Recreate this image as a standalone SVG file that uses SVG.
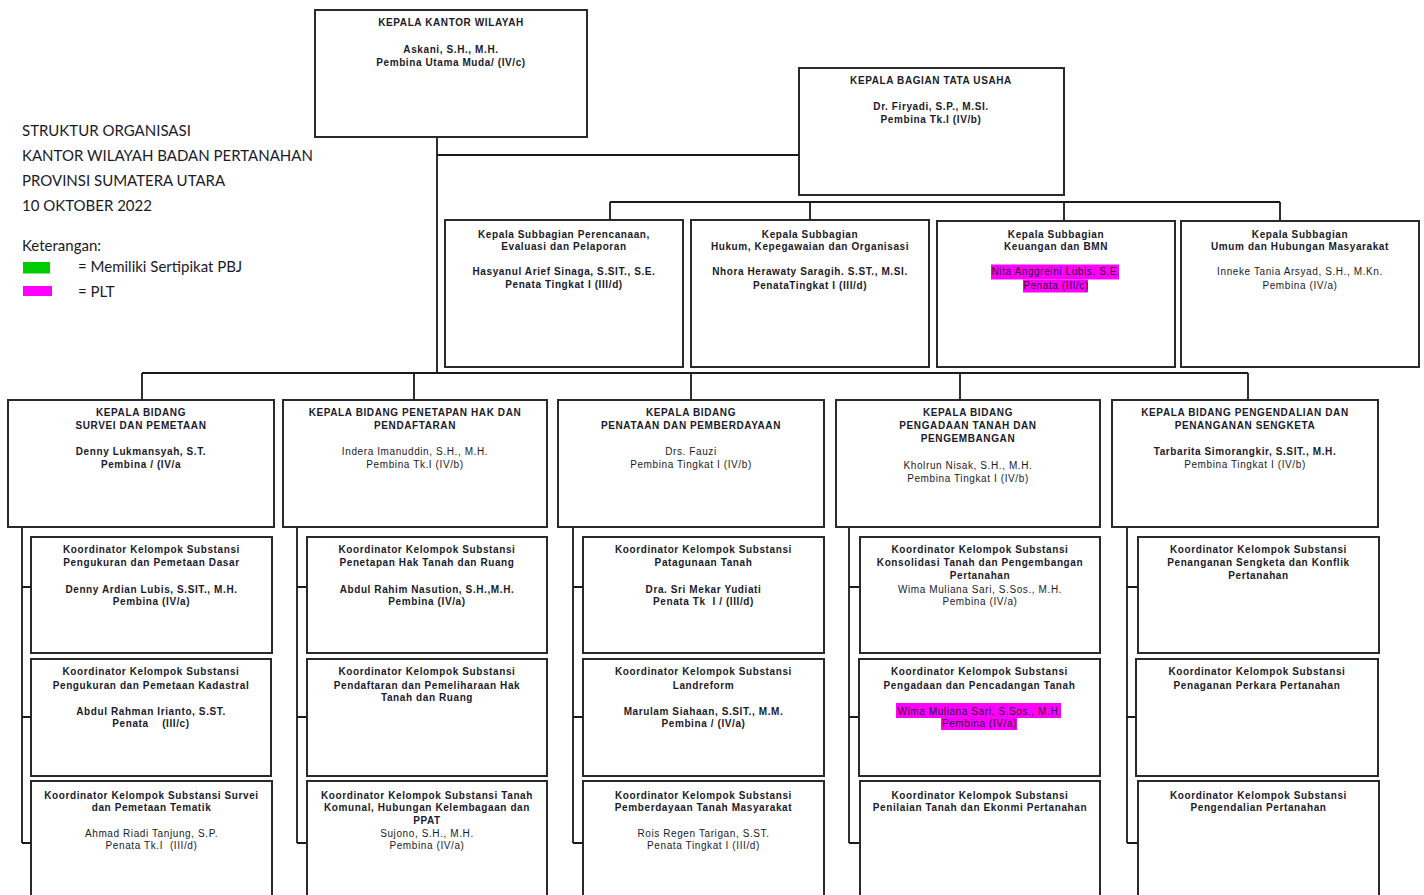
<svg xmlns="http://www.w3.org/2000/svg" width="1424" height="895" viewBox="0 0 1424 895">
<style>
.bg{fill:#ffffff}
.box{fill:#ffffff;stroke:#2a2a2a;stroke-width:2}
.ln{fill:none;stroke:#1a1a1a;stroke-width:1.8}
.t{font-family:"Liberation Sans",Arial,sans-serif;font-size:10px;text-anchor:middle;fill:#1a1a2a;letter-spacing:0.6px}
.b{font-weight:bold}
.ti{font-family:Lato,"Open Sans",sans-serif;font-size:15px;fill:#1a1a2a}
.hl{fill:#ff00ff}
</style>
<rect class="bg" x="0" y="0" width="1424" height="895"/>

<g id="title">
<text class="ti" x="22" y="136">STRUKTUR ORGANISASI</text>
<text class="ti" x="22" y="161">KANTOR WILAYAH BADAN PERTANAHAN</text>
<text class="ti" x="22" y="186">PROVINSI SUMATERA UTARA</text>
<text class="ti" x="22" y="211">10 OKTOBER 2022</text>
<text class="ti" x="22" y="251">Keterangan:</text>
<rect x="23" y="262" width="27" height="11.5" fill="#00cc00"/>
<text class="ti" x="78" y="272">= Memiliki Sertipikat PBJ</text>
<rect x="23" y="286" width="29" height="10" fill="#ff00ff"/>
<text class="ti" x="78" y="297">= PLT</text>
</g>

<g id="connectors">
<path class="ln" d="M437 137 V373 M437 155 H799"/>
<path class="ln" d="M610 202 H1280 M610 202 V220 M810 202 V220 M1064 202 V221 M1280 202 V221"/>
<path class="ln" d="M142 373 H1248 M142 373 V400 M414 373 V400 M691 373 V400 M960 373 V400 M1248 373 V400"/>
<path class="ln" d="M22 527 V843 M22 587 H31 M22 717 H31 M22 843 H31"/>
<path class="ln" d="M297 527 V843 M297 587 H307 M297 717 H307 M297 843 H307"/>
<path class="ln" d="M573 527 V843 M573 587 H583 M573 717 H583 M573 843 H583"/>
<path class="ln" d="M849 527 V843 M849 587 H860 M849 717 H860 M849 843 H860"/>
<path class="ln" d="M1127 527 V843 M1127 587 H1138 M1127 717 H1138 M1127 843 H1138"/>
</g>

<g id="kakanwil">
<rect class="box" x="315" y="10" width="272" height="127"/>
<text class="t b" x="451" y="26">KEPALA KANTOR WILAYAH</text>
<text class="t b" x="451" y="53">Askani, S.H., M.H.</text>
<text class="t b" x="451" y="65.5">Pembina Utama Muda/ (IV/c)</text>
</g>

<g id="kabag-tu">
<rect class="box" x="799" y="68" width="265" height="127"/>
<text class="t b" x="931" y="84">KEPALA BAGIAN TATA USAHA</text>
<text class="t b" x="931" y="110">Dr. Firyadi, S.P., M.SI.</text>
<text class="t b" x="931" y="123">Pembina Tk.I (IV/b)</text>
</g>

<g id="subbag-perencanaan">
<rect class="box" x="445" y="220" width="238" height="147"/>
<text class="t b" x="564" y="237.5">Kepala Subbagian Perencanaan,</text>
<text class="t b" x="564" y="249.5">Evaluasi dan Pelaporan</text>
<text class="t b" x="564" y="275.3">Hasyanul Arief Sinaga, S.SIT., S.E.</text>
<text class="t b" x="564" y="288">Penata Tingkat I (III/d)</text>
</g>

<g id="subbag-hukum">
<rect class="box" x="691" y="220" width="238" height="147"/>
<text class="t b" x="810" y="237.5">Kepala Subbagian</text>
<text class="t b" x="810" y="250">Hukum, Kepegawaian dan Organisasi</text>
<text class="t b" x="810" y="275.3">Nhora Herawaty Saragih. S.ST., M.SI.</text>
<text class="t b" x="810" y="288.5">PenataTingkat I (III/d)</text>
</g>

<g id="subbag-keuangan">
<rect class="box" x="937" y="221" width="238" height="146"/>
<rect class="hl" x="991" y="264.5" width="128" height="15"/>
<rect class="hl" x="1023" y="279.5" width="65" height="13"/>
<text class="t b" x="1056" y="237.5">Kepala Subbagian</text>
<text class="t b" x="1056" y="249.5">Keuangan dan BMN</text>
<text class="t" x="1056" y="275.3">Nita Anggreini Lubis, S.E.</text>
<text class="t" x="1056" y="288.5">Penata (III/c)</text>
</g>

<g id="subbag-umum">
<rect class="box" x="1181" y="221" width="238" height="146"/>
<text class="t b" x="1300" y="237.5">Kepala Subbagian</text>
<text class="t b" x="1300" y="249.5">Umum dan Hubungan Masyarakat</text>
<text class="t" x="1300" y="275.3">Inneke Tania Arsyad, S.H., M.Kn.</text>
<text class="t" x="1300" y="288.5">Pembina (IV/a)</text>
</g>

<g id="bidang-survei">
<rect class="box" x="8" y="400" width="266" height="127"/>
<text class="t b" x="141" y="416">KEPALA BIDANG</text>
<text class="t b" x="141" y="428.5">SURVEI DAN PEMETAAN</text>
<text class="t b" x="141" y="455.3">Denny Lukmansyah, S.T.</text>
<text class="t b" x="141" y="467.7">Pembina / (IV/a</text>
</g>

<g id="bidang-penetapan">
<rect class="box" x="283" y="400" width="264" height="127"/>
<text class="t b" x="415" y="416">KEPALA BIDANG PENETAPAN HAK DAN</text>
<text class="t b" x="415" y="428.5">PENDAFTARAN</text>
<text class="t" x="415" y="455.3">Indera Imanuddin, S.H., M.H.</text>
<text class="t" x="415" y="467.7">Pembina Tk.I (IV/b)</text>
</g>

<g id="bidang-penataan">
<rect class="box" x="558" y="400" width="266" height="127"/>
<text class="t b" x="691" y="416">KEPALA BIDANG</text>
<text class="t b" x="691" y="428.5">PENATAAN DAN PEMBERDAYAAN</text>
<text class="t" x="691" y="455.3">Drs. Fauzi</text>
<text class="t" x="691" y="467.7">Pembina Tingkat I (IV/b)</text>
</g>

<g id="bidang-pengadaan">
<rect class="box" x="836" y="400" width="264" height="127"/>
<text class="t b" x="968" y="416">KEPALA BIDANG</text>
<text class="t b" x="968" y="428.5">PENGADAAN TANAH DAN</text>
<text class="t b" x="968" y="441.8">PENGEMBANGAN</text>
<text class="t" x="968" y="469.3">Kholrun Nisak, S.H., M.H.</text>
<text class="t" x="968" y="481.8">Pembina Tingkat I (IV/b)</text>
</g>

<g id="bidang-pengendalian">
<rect class="box" x="1112" y="400" width="266" height="127"/>
<text class="t b" x="1245" y="416">KEPALA BIDANG PENGENDALIAN DAN</text>
<text class="t b" x="1245" y="428.5">PENANGANAN SENGKETA</text>
<text class="t b" x="1245" y="455.3">Tarbarita Simorangkir, S.SIT., M.H.</text>
<text class="t" x="1245" y="467.7">Pembina Tingkat I (IV/b)</text>
</g>

<g id="koord-dasar">
<rect class="box" x="31" y="537" width="241" height="116"/>
<text class="t b" x="151.5" y="553">Koordinator Kelompok Substansi</text>
<text class="t b" x="151.5" y="566.3">Pengukuran dan Pemetaan Dasar</text>
<text class="t b" x="151.5" y="593">Denny Ardian Lubis, S.SIT., M.H.</text>
<text class="t b" x="151.5" y="605">Pembina  (IV/a)</text>
</g>
<g id="koord-kadastral">
<rect class="box" x="31" y="659" width="240" height="117"/>
<text class="t b" x="151" y="675.3">Koordinator Kelompok Substansi</text>
<text class="t b" x="151" y="688.6">Pengukuran dan Pemetaan Kadastral</text>
<text class="t b" x="151" y="715.3">Abdul Rahman Irianto, S.ST.</text>
<text class="t b" x="151" y="727.3" xml:space="preserve">Penata    (III/c)</text>
</g>
<g id="koord-tematik">
<rect class="box" x="31" y="781" width="241" height="130"/>
<text class="t b" x="151.5" y="798.6">Koordinator Kelompok Substansi Survei</text>
<text class="t b" x="151.5" y="811">dan Pemetaan Tematik</text>
<text class="t" x="151.5" y="837">Ahmad Riadi Tanjung, S.P.</text>
<text class="t" x="151.5" y="849.3" xml:space="preserve">Penata Tk.I  (III/d)</text>
</g>

<g id="koord-penetapan">
<rect class="box" x="307" y="537" width="240" height="116"/>
<text class="t b" x="427" y="553">Koordinator Kelompok Substansi</text>
<text class="t b" x="427" y="566.3">Penetapan Hak Tanah dan Ruang</text>
<text class="t b" x="427" y="593">Abdul Rahim Nasution, S.H.,M.H.</text>
<text class="t b" x="427" y="605">Pembina (IV/a)</text>
</g>
<g id="koord-pendaftaran">
<rect class="box" x="307" y="659" width="240" height="117"/>
<text class="t b" x="427" y="675.3">Koordinator Kelompok Substansi</text>
<text class="t b" x="427" y="688.6">Pendaftaran dan Pemeliharaan Hak</text>
<text class="t b" x="427" y="701">Tanah dan Ruang</text>
</g>
<g id="koord-komunal">
<rect class="box" x="307" y="781" width="240" height="130"/>
<text class="t b" x="427" y="798.6">Koordinator Kelompok Substansi Tanah</text>
<text class="t b" x="427" y="811">Komunal, Hubungan Kelembagaan dan</text>
<text class="t b" x="427" y="824.3">PPAT</text>
<text class="t" x="427" y="837">Sujono, S.H., M.H.</text>
<text class="t" x="427" y="849.3">Pembina (IV/a)</text>
</g>

<g id="koord-penatagunaan">
<rect class="box" x="583" y="537" width="241" height="116"/>
<text class="t b" x="703.5" y="553">Koordinator Kelompok Substansi</text>
<text class="t b" x="703.5" y="566.3">Patagunaan Tanah</text>
<text class="t b" x="703.5" y="593">Dra. Sri Mekar Yudiati</text>
<text class="t b" x="703.5" y="605" xml:space="preserve">Penata Tk  I / (III/d)</text>
</g>
<g id="koord-landreform">
<rect class="box" x="583" y="659" width="241" height="117"/>
<text class="t b" x="703.5" y="675.3">Koordinator Kelompok Substansi</text>
<text class="t b" x="703.5" y="688.6">Landreform</text>
<text class="t b" x="703.5" y="715.3">Marulam Siahaan, S.SIT., M.M.</text>
<text class="t b" x="703.5" y="727.3">Pembina / (IV/a)</text>
</g>
<g id="koord-pemberdayaan">
<rect class="box" x="583" y="781" width="241" height="130"/>
<text class="t b" x="703.5" y="798.6">Koordinator Kelompok Substansi</text>
<text class="t b" x="703.5" y="811">Pemberdayaan Tanah Masyarakat</text>
<text class="t" x="703.5" y="837">Rois Regen Tarigan, S.ST.</text>
<text class="t" x="703.5" y="849.3">Penata Tingkat I (III/d)</text>
</g>

<g id="koord-konsolidasi">
<rect class="box" x="860" y="537" width="240" height="116"/>
<text class="t b" x="980" y="553">Koordinator Kelompok Substansi</text>
<text class="t b" x="980" y="566.3">Konsolidasi Tanah dan Pengembangan</text>
<text class="t b" x="980" y="578.8">Pertanahan</text>
<text class="t" x="980" y="593">Wima Muliana Sari, S.Sos., M.H.</text>
<text class="t" x="980" y="605">Pembina (IV/a)</text>
</g>
<g id="koord-pengadaan">
<rect class="box" x="859" y="659" width="241" height="117"/>
<rect class="hl" x="896" y="703" width="165" height="15"/>
<rect class="hl" x="941" y="718" width="76" height="12"/>
<text class="t b" x="979.5" y="675.3">Koordinator Kelompok Substansi</text>
<text class="t b" x="979.5" y="688.6">Pengadaan dan Pencadangan Tanah</text>
<text class="t" x="979.5" y="715.3">Wima Muliana Sari, S.Sos., M.H.</text>
<text class="t" x="979.5" y="727.3">Pembina (IV/a)</text>
</g>
<g id="koord-penilaian">
<rect class="box" x="860" y="781" width="240" height="130"/>
<text class="t b" x="980" y="798.6">Koordinator Kelompok Substansi</text>
<text class="t b" x="980" y="811">Penilaian Tanah dan Ekonmi Pertanahan</text>
</g>

<g id="koord-sengketa">
<rect class="box" x="1138" y="537" width="241" height="116"/>
<text class="t b" x="1258.5" y="553">Koordinator Kelompok Substansi</text>
<text class="t b" x="1258.5" y="566.3">Penanganan Sengketa dan Konflik</text>
<text class="t b" x="1258.5" y="578.8">Pertanahan</text>
</g>
<g id="koord-perkara">
<rect class="box" x="1136" y="659" width="242" height="117"/>
<text class="t b" x="1257" y="675.3">Koordinator Kelompok Substansi</text>
<text class="t b" x="1257" y="688.6">Penaganan Perkara Pertanahan</text>
</g>
<g id="koord-pengendalian">
<rect class="box" x="1138" y="781" width="241" height="130"/>
<text class="t b" x="1258.5" y="798.6">Koordinator Kelompok Substansi</text>
<text class="t b" x="1258.5" y="811">Pengendalian Pertanahan</text>
</g>
</svg>
